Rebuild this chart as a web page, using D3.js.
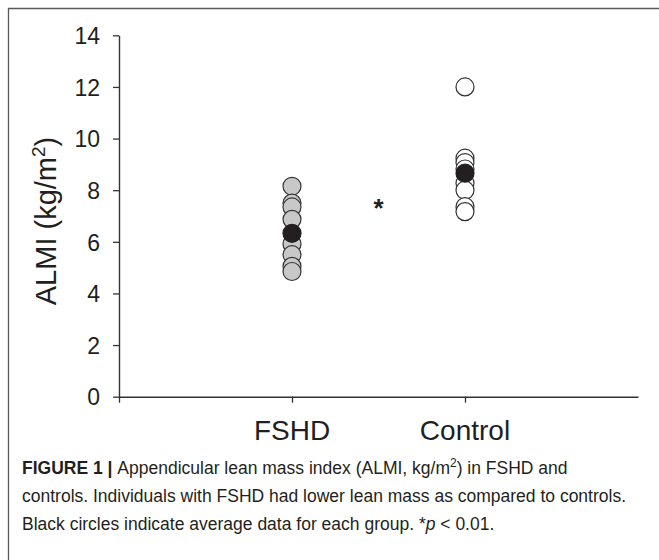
<!DOCTYPE html>
<html>
<head>
<meta charset="utf-8">
<script src="https://cdn.jsdelivr.net/npm/d3@7"></script>
<style>
  body { margin: 0; background: #fff; }
  svg { display: block; font-family: 'Liberation Sans', Arial, sans-serif; }
</style>
</head>
<body>
<div id="chart"></div>
<script>
;(function () {
  // data
  var groups = ['FSHD', 'Control']
  var fshdValues = [8.15, 7.5, 7.35, 6.87, 5.92, 5.5, 5.05, 4.85]
  var controlValues = [12.0, 9.24, 9.07, 8.82, 8.27, 8.0, 7.36, 7.17]
  var groupMeans = [6.33, 8.66]
  var yTicks = [0, 2, 4, 6, 8, 10, 12, 14]
  var starValue = 7.43

  var svgWidth = 659,
    svgHeight = 560

  var svg = d3
    .select('#chart')
    .append('svg')
    .attr('width', svgWidth)
    .attr('height', svgHeight)

  // figure frame (open on right and bottom)
  svg
    .append('path')
    .attr('d', 'M8.5,' + svgHeight + 'V8.5H' + (svgWidth + 2))
    .attr('fill', 'none')
    .attr('stroke', '#5a5a5a')
    .attr('stroke-width', 1.3)

  // Scales
  var x = d3.scaleLinear().domain([0, 3]).range([119, 638])
  var y = d3.scaleLinear().domain([0, 14]).range([396.7, 35.3])

  // y axis
  svg
    .append('g')
    .attr('transform', 'translate(119,0)')
    .call(d3.axisLeft(y).tickValues(yTicks).tickSize(6).tickPadding(13).tickSizeOuter(0))
    .call(g => g.select('.domain').attr('stroke', '#333').attr('stroke-width', 1.4))
    .call(g => g.selectAll('.tick line').attr('stroke', '#333').attr('stroke-width', 1.3))
    .call(g =>
      g.selectAll('.tick text').attr('fill', '#231f20').style('font-size', '23px').attr('dy', '0.36em'),
    )

  // x axis
  svg
    .append('g')
    .attr('transform', 'translate(0,396.7)')
    .call(d3.axisBottom(x).tickValues([0, 1, 2]).tickSize(6).tickSizeOuter(0).tickFormat(''))
    .call(g => g.select('.domain').attr('stroke', '#333').attr('stroke-width', 1.4))
    .call(g => g.selectAll('.tick line').attr('stroke', '#333').attr('stroke-width', 1.3))

  svg
    .append('g')
    .selectAll('text')
    .data(groups)
    .enter()
    .append('text')
    .attr('x', (d, i) => x(i + 1))
    .attr('y', 440)
    .attr('text-anchor', 'middle')
    .attr('fill', '#231f20')
    .style('font-size', '28px')
    .text(d => d)

  // y label
  var ylab = svg
    .append('text')
    .attr('transform', 'translate(55.5,221) rotate(-90)')
    .attr('text-anchor', 'middle')
    .attr('fill', '#231f20')
    .style('font-size', '29px')
  ylab.append('tspan').text('ALMI (kg/m')
  ylab.append('tspan').attr('dy', -11).style('font-size', '19px').text('2')
  ylab.append('tspan').attr('dy', 11).text(')')

  // points
  var pts = svg.append('g')
  pts
    .selectAll('.fshd')
    .data(fshdValues)
    .enter()
    .append('circle')
    .attr('cx', x(1))
    .attr('cy', d => y(d))
    .attr('r', 9)
    .attr('fill', '#c8c8c8')
    .attr('stroke', '#333')
    .attr('stroke-width', 1.2)

  pts
    .selectAll('.ctrl')
    .data(controlValues)
    .enter()
    .append('circle')
    .attr('cx', x(2))
    .attr('cy', d => y(d))
    .attr('r', 9)
    .attr('fill', '#fff')
    .attr('stroke', '#333')
    .attr('stroke-width', 1.2)

  pts
    .selectAll('.mean')
    .data(groupMeans)
    .enter()
    .append('circle')
    .attr('cx', (d, i) => x(i + 1))
    .attr('cy', d => y(d))
    .attr('r', 9)
    .attr('fill', '#231f20')
    .attr('stroke', '#231f20')
    .attr('stroke-width', 1.2)

  // significance marker
  svg
    .append('text')
    .attr('x', x(1.5))
    .attr('y', y(starValue) + 12)
    .attr('text-anchor', 'middle')
    .attr('fill', '#231f20')
    .style('font-size', '26px')
    .style('font-weight', 'bold')
    .text('*')

  // caption
  var cap = svg
    .append('g')
    .attr('fill', '#231f20')
    .style('font-size', '17.5px')

  var l1 = cap.append('text').attr('x', 22).attr('y', 474)
  l1.append('tspan').style('font-weight', 'bold').text('FIGURE 1 | ')
  l1.append('tspan').text('Appendicular lean mass index (ALMI, kg/m')
  l1.append('tspan').attr('dy', -7).style('font-size', '12px').text('2')
  l1.append('tspan').attr('dy', 7).text(') in FSHD and')

  cap
    .append('text')
    .attr('x', 22)
    .attr('y', 502)
    .text('controls. Individuals with FSHD had lower lean mass as compared to controls.')

  var l3 = cap.append('text').attr('x', 22).attr('y', 530)
  l3.append('tspan').text('Black circles indicate average data for each group. *')
  l3.append('tspan').style('font-style', 'italic').text('p')
  l3.append('tspan').text(' < 0.01.')
})()
</script>
</body>
</html>
